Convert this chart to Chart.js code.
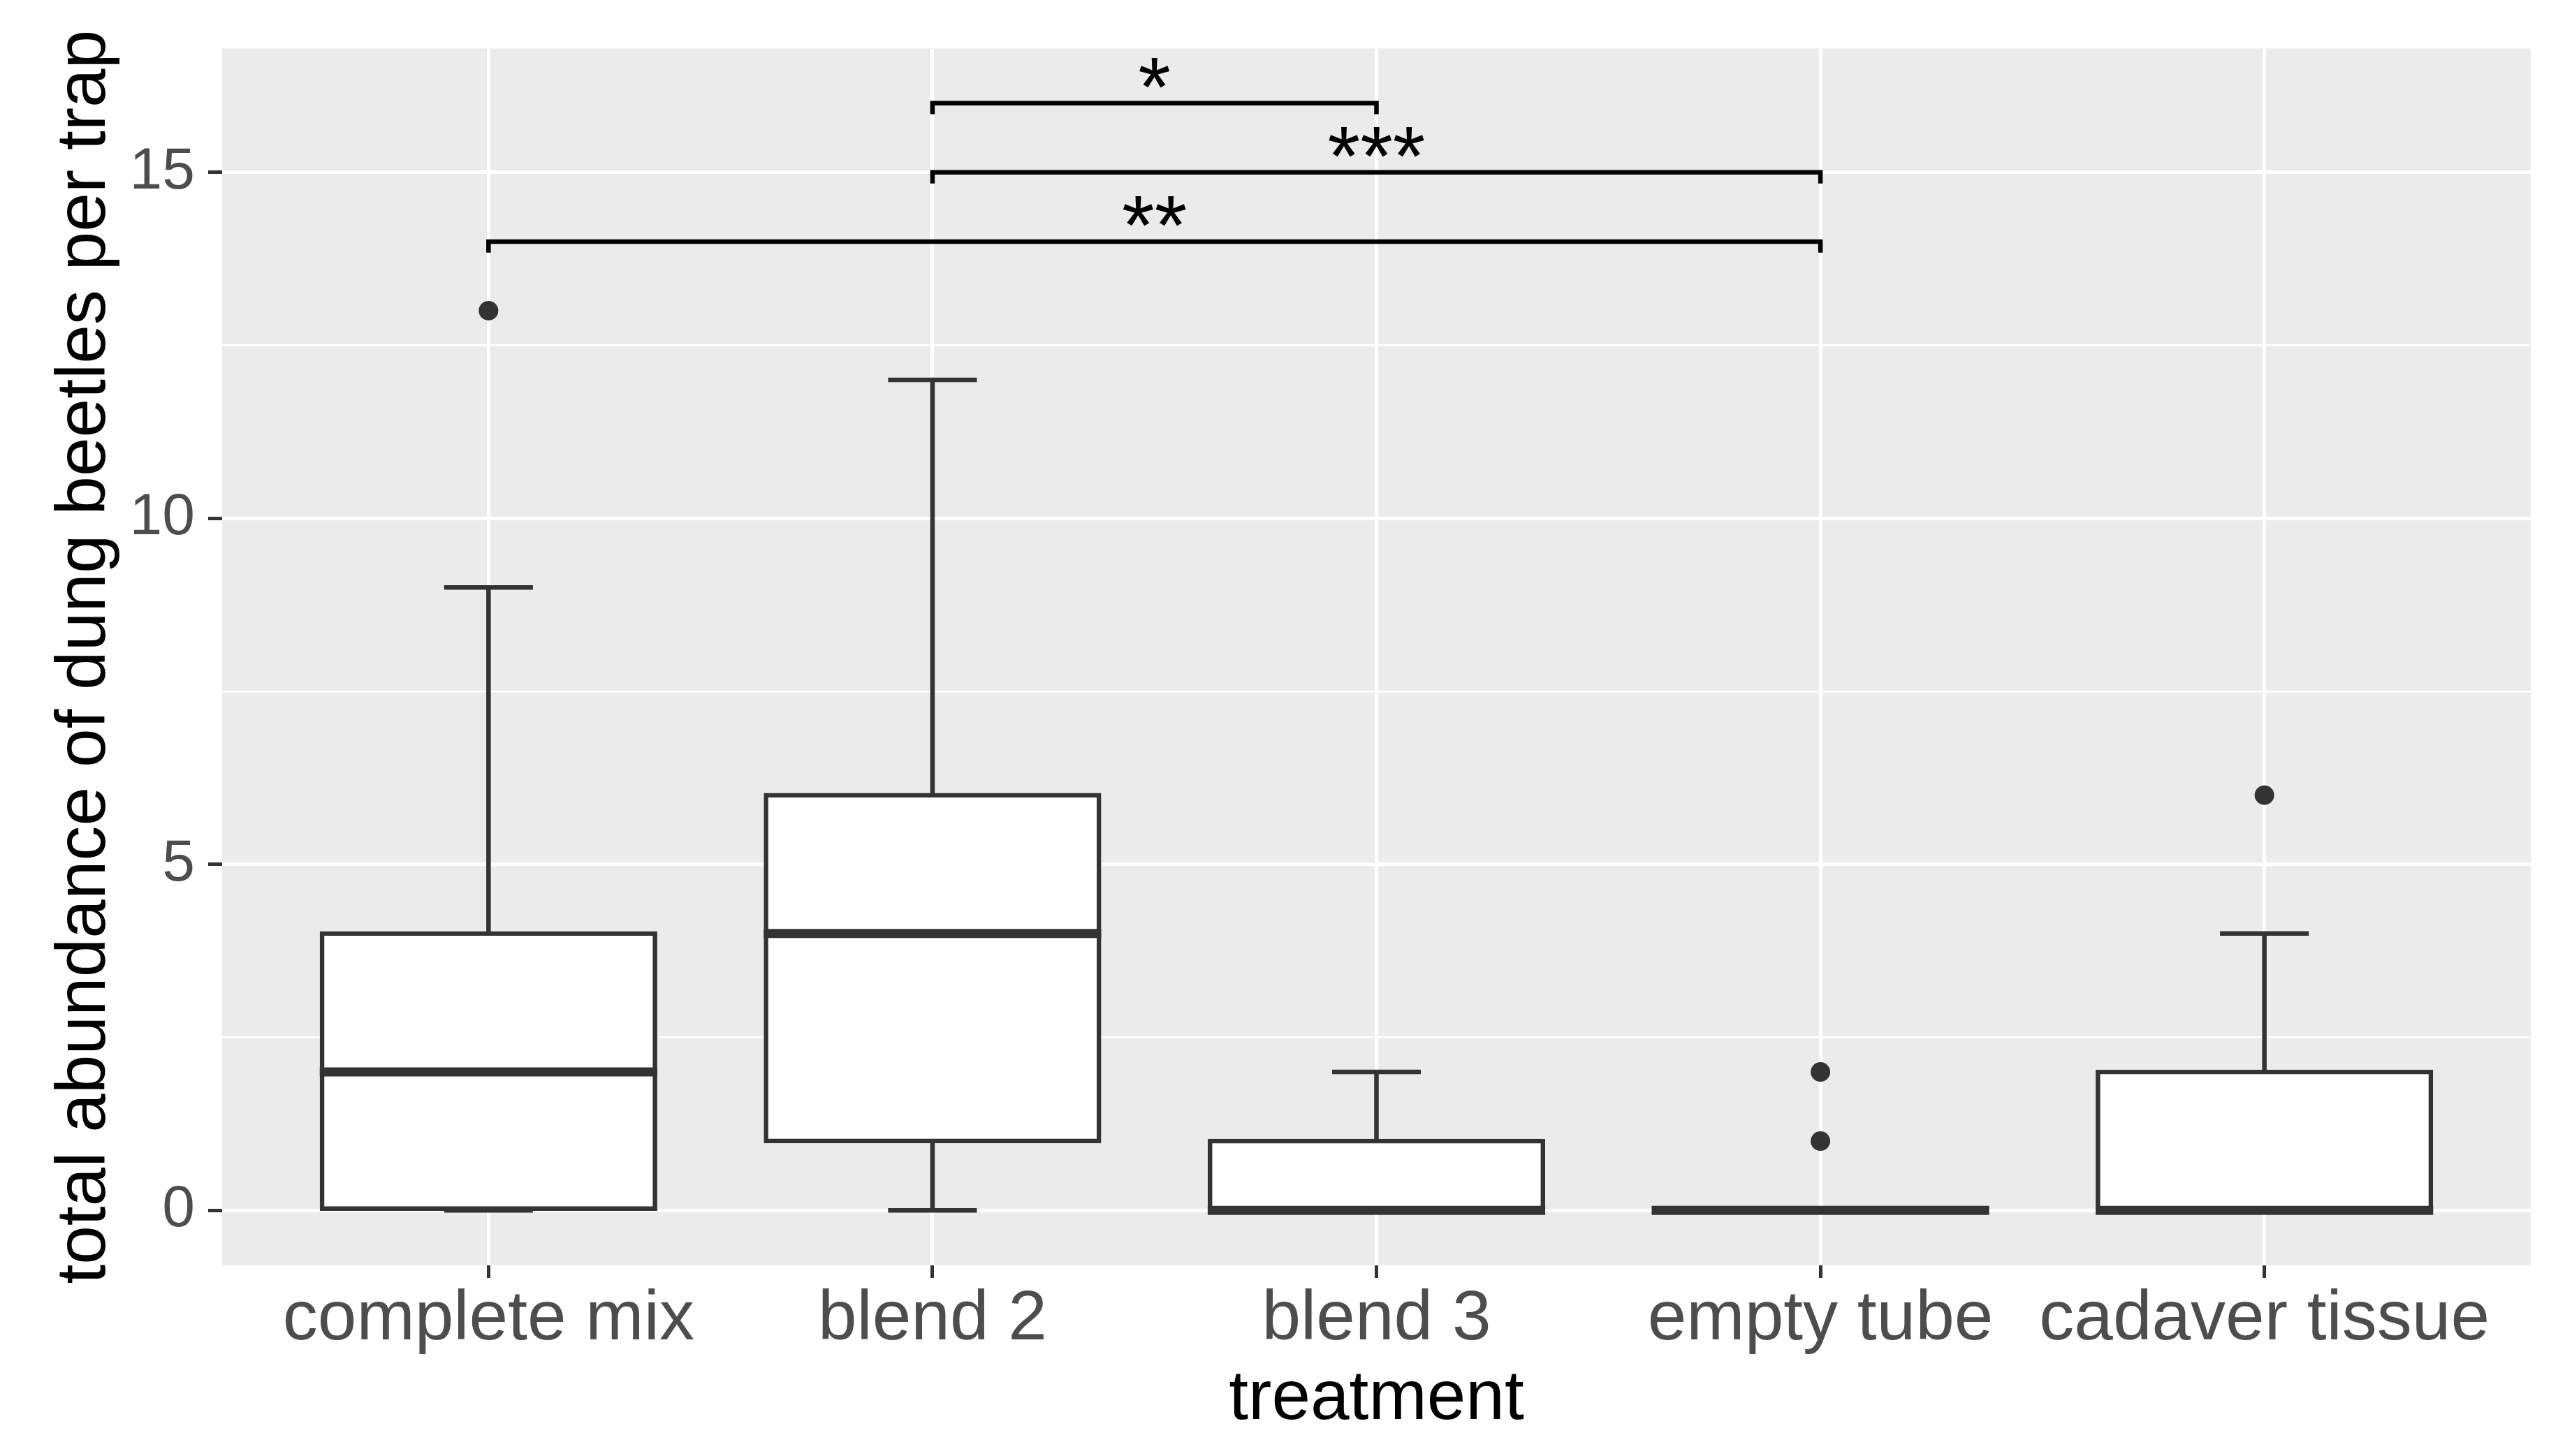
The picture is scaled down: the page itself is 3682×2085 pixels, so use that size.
<!DOCTYPE html>
<html>
<head>
<meta charset="utf-8">
<script src="https://cdn.jsdelivr.net/npm/chart.js@4.4.0/dist/chart.umd.min.js"></script>
<style>
  html, body { margin: 0; padding: 0; background: #ffffff; }
  canvas { display: block; }
</style>
</head>
<body>
<canvas id="chart" width="3682" height="2085"></canvas>
<script>
// treatments along the x axis
const categories = ['complete mix', 'blend 2', 'blend 3', 'empty tube', 'cadaver tissue'];

// boxplot summaries
const whiskerLow  = [0, 0, 0, 0, 0];
const lowerQuart  = [0, 1, 0, 0, 0];
const medians     = [2, 4, 0, 0, 0];
const upperQuart  = [4, 6, 1, 0, 2];
const whiskerHigh = [9, 12, 2, 0, 4];

// outlying points: which treatment, and the value
const outlierGroup = [0, 3, 3, 4];
const outlierValue = [13, 1, 2, 6];

// significance brackets
const bracketFrom  = [1, 1, 0];
const bracketTo    = [2, 3, 3];
const bracketY     = [16, 15, 14];
const bracketLabel = ['*', '***', '**'];

// y axis ticks, only the major ones carry a label
const yTicks      = [0, 2.5, 5, 7.5, 10, 12.5, 15];
const yTickLabels = ['0', '', '5', '', '10', '', '15'];

const family = '"Liberation Sans", Arial, sans-serif';
const ink = '#333333';
const boxLine = 6.5;
const capWidth = 0.2;     // errorbar cap width, in category units
const tipLength = 0.16;   // bracket tip drop, in y units
const isMajor = v => v % 5 === 0;

// grey panel behind the grid
const panel = {
  id: 'panel',
  beforeDraw(chart) {
    const { ctx, chartArea: a } = chart;
    ctx.save();
    ctx.fillStyle = '#EBEBEB';
    ctx.fillRect(a.left, a.top, a.right - a.left, a.bottom - a.top);
    ctx.restore();
  }
};

// whiskers under the boxes, medians and brackets on top
const boxExtras = {
  id: 'boxExtras',
  beforeDatasetsDraw(chart) {
    const { ctx, scales: { x, y } } = chart;
    ctx.save();
    ctx.strokeStyle = ink;
    ctx.lineWidth = boxLine;
    categories.forEach((c, i) => {
      const cx = x.getPixelForValue(i);
      ctx.beginPath();
      ctx.moveTo(cx, y.getPixelForValue(whiskerLow[i]));
      ctx.lineTo(cx, y.getPixelForValue(whiskerHigh[i]));
      ctx.stroke();
      [whiskerLow[i], whiskerHigh[i]].forEach(v => {
        const py = y.getPixelForValue(v);
        ctx.beginPath();
        ctx.moveTo(x.getPixelForValue(i - capWidth / 2), py);
        ctx.lineTo(x.getPixelForValue(i + capWidth / 2), py);
        ctx.stroke();
      });
    });
    ctx.restore();
  },
  afterDatasetsDraw(chart) {
    const { ctx, scales: { x, y } } = chart;
    const bars = chart.getDatasetMeta(0).data;
    ctx.save();
    // medians
    ctx.strokeStyle = ink;
    ctx.lineWidth = 13;
    bars.forEach((bar, i) => {
      const { x: bx, width } = bar.getProps(['x', 'width'], true);
      const py = y.getPixelForValue(medians[i]);
      ctx.beginPath();
      ctx.moveTo(bx - width / 2 - boxLine / 2, py);
      ctx.lineTo(bx + width / 2 + boxLine / 2, py);
      ctx.stroke();
    });
    // brackets with stars
    ctx.strokeStyle = '#000000';
    ctx.fillStyle = '#000000';
    ctx.lineWidth = 6.5;
    ctx.font = '120px ' + family;
    ctx.textAlign = 'center';
    ctx.textBaseline = 'alphabetic';
    bracketY.forEach((yb, k) => {
      const x1 = x.getPixelForValue(bracketFrom[k]);
      const x2 = x.getPixelForValue(bracketTo[k]);
      const py = y.getPixelForValue(yb);
      const pTip = y.getPixelForValue(yb - tipLength);
      ctx.beginPath();
      ctx.moveTo(x1, pTip);
      ctx.lineTo(x1, py);
      ctx.lineTo(x2, py);
      ctx.lineTo(x2, pTip);
      ctx.stroke();
      const m = ctx.measureText(bracketLabel[k]);
      ctx.fillText(bracketLabel[k], (x1 + x2) / 2, py - 22 - m.actualBoundingBoxDescent);
    });
    ctx.restore();
  }
};

new Chart(document.getElementById('chart'), {
  type: 'bar',
  data: {
    datasets: [
      {
        type: 'bar',
        data: categories.map((c, i) => ({ x: i, y: [lowerQuart[i], upperQuart[i]] })),
        backgroundColor: '#FFFFFF',
        borderColor: ink,
        borderWidth: boxLine,
        borderSkipped: false,
        inflateAmount: boxLine / 2,   // centre the outline on the box edges
        barPercentage: 0.75,
        categoryPercentage: 1
      },
      {
        type: 'scatter',
        data: outlierValue.map((v, k) => ({ x: outlierGroup[k], y: v })),
        pointRadius: 14,
        pointBackgroundColor: ink,
        pointBorderWidth: 0
      }
    ]
  },
  options: {
    responsive: false,
    animation: false,
    devicePixelRatio: 1,
    layout: { padding: { top: 65, right: 59, bottom: 0, left: 0 } },
    plugins: { legend: { display: false }, tooltip: { enabled: false } },
    scales: {
      x: {
        type: 'linear',
        min: -0.6,
        max: 4.6,
        offset: false,
        afterBuildTicks: s => { s.ticks = categories.map((c, i) => ({ value: i })); },
        afterFit: s => { s.height = 273; },
        ticks: {
          callback: v => categories[v],
          color: '#4D4D4D',
          font: { family, size: 100 },
          padding: 0,
          maxRotation: 0,
          autoSkip: false
        },
        grid: { offset: false, color: '#FFFFFF', lineWidth: 5, tickColor: ink, tickLength: 18, tickWidth: 5 },
        border: { display: false },
        title: { display: true, text: 'treatment', color: '#000000', font: { family, size: 100 }, padding: { top: 0, bottom: 21 } }
      },
      y: {
        type: 'linear',
        min: -0.795,
        max: 16.79,
        afterBuildTicks: s => { s.ticks = yTicks.map(v => ({ value: v })); },
        afterFit: s => { s.width = 318; },
        ticks: {
          callback: v => yTickLabels[yTicks.indexOf(v)],
          color: '#4D4D4D',
          font: { family, size: 84 },
          padding: 19,
          autoSkip: false
        },
        grid: {
          color: '#FFFFFF',
          lineWidth: c => isMajor(c.tick.value) ? 5 : 2.5,
          tickColor: c => isMajor(c.tick.value) ? ink : 'rgba(0,0,0,0)',
          tickLength: 20,
          tickWidth: 5
        },
        border: { display: false },
        title: { display: true, text: 'total abundance of dung beetles per trap', color: '#000000', font: { family, size: 100 }, padding: { top: 62, bottom: 0 } }
      }
    }
  },
  plugins: [panel, boxExtras]
});
</script>
</body>
</html>
